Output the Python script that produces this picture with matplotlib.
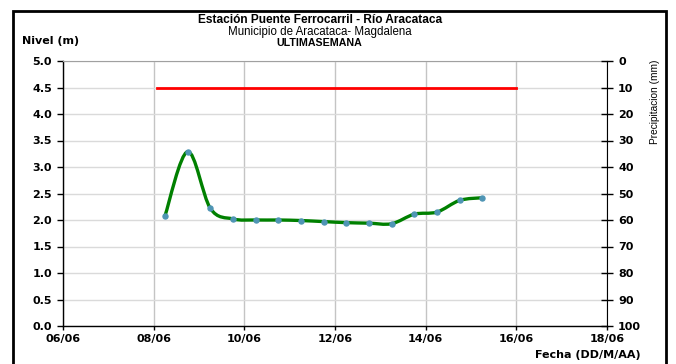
import matplotlib
matplotlib.use("Agg")
import matplotlib.pyplot as plt
import matplotlib.dates as mdates
from matplotlib.path import Path
from matplotlib.patches import PathPatch, Rectangle
import numpy as np
import pandas as pd

# --- data ---
fechas = pd.date_range("2023-06-08 06:00", periods=15, freq="12h")
nivel = [2.08, 3.29, 2.22, 2.02, 2.00, 2.00, 1.99, 1.97, 1.95, 1.94, 1.93, 2.11, 2.15, 2.37, 2.42]
alerta_fechas = pd.to_datetime(["2023-06-08 02:00", "2023-06-16 00:00"])
alerta_nivel = [4.5, 4.5]
x_ticks = pd.date_range("2023-06-06", "2023-06-18", freq="2D")
y_ticks = np.arange(0, 5.01, 0.5)
precip_ticks = np.arange(0, 101, 10)

plt.rcParams["font.family"] = ["Liberation Sans", "DejaVu Sans"]
WIDE = ["DejaVu Sans"]  # the reference's bold labels are wide, DejaVu fits them


def smooth_path(x, y):
    # Excel-style smoothed line: Catmull-Rom segments as cubic Beziers
    p = np.column_stack([x, y])
    n = len(p)
    verts = [p[0]]
    codes = [Path.MOVETO]
    for i in range(n - 1):
        p0 = p[i - 1] if i > 0 else p[i]
        p3 = p[i + 2] if i + 2 < n else p[i + 1]
        c1 = p[i] + (p[i + 1] - p0) / 6
        c2 = p[i + 1] - (p3 - p[i]) / 6
        verts += [c1, c2, p[i + 1]]
        codes += [Path.CURVE4] * 3
    return Path(verts, codes)


fig = plt.figure(figsize=(6.76, 3.64), dpi=100)
ax = fig.add_axes([63 / 676, 1 - 326 / 364, 544 / 676, 265 / 364])

xnum = mdates.date2num(fechas)
ax.add_patch(PathPatch(smooth_path(xnum, nivel), facecolor="none",
                       edgecolor="#008000", lw=2.4, zorder=3))
ax.plot(fechas, nivel, ls="none", marker="o", ms=3.6,
        color="#4f95b5", zorder=4)
ax.plot(alerta_fechas, alerta_nivel, color="#ff0000", lw=2, zorder=3)

ax.set_xlim(x_ticks[0], x_ticks[-1])
ax.set_ylim(0, 5)
ax.set_xticks(x_ticks)
ax.xaxis.set_major_formatter(mdates.DateFormatter("%d/%m"))
ax.set_yticks(y_ticks)
ax.set_yticklabels([f"{v:.1f}" for v in y_ticks])

ax.grid(axis="x", color="#c4c4c4", lw=1)
ax.grid(axis="y", color="#dadada", lw=1)
ax.set_axisbelow(True)

for s in ["left", "bottom"]:
    ax.spines[s].set_color("black")
    ax.spines[s].set_linewidth(1)
ax.spines["top"].set_color("#a0a0a0")
ax.spines["right"].set_visible(False)

ax.tick_params(axis="y", direction="out", length=4, width=1, pad=4, labelsize=8)
ax.tick_params(axis="x", direction="out", length=3, width=1, pad=3, labelsize=8)
for lab in ax.get_xticklabels() + ax.get_yticklabels():
    lab.set_fontweight("bold")
    lab.set_family(WIDE)

ax2 = ax.twinx()
ax2.set_ylim(100, 0)
ax2.set_yticks(precip_ticks)
ax2.tick_params(axis="y", direction="inout", length=8, width=1, pad=4, labelsize=8)
for lab in ax2.get_yticklabels():
    lab.set_fontweight("bold")
    lab.set_family(WIDE)
for s in ["left", "bottom", "top"]:
    ax2.spines[s].set_visible(False)
ax2.spines["right"].set_color("black")

fig.text(320 / 676, 1 - 20 / 364, "Estación Puente Ferrocarril - Río Aracataca",
         ha="center", va="center", fontsize=8.6, fontweight="bold")
fig.text(320 / 676, 1 - 32 / 364, "Municipio de Aracataca- Magdalena",
         ha="center", va="center", fontsize=8.3)
fig.text(319 / 676, 1 - 43 / 364, "ULTIMASEMANA",
         ha="center", va="center", fontsize=7.7, fontweight="bold")
fig.text(22 / 676, 1 - 41 / 364, "Nivel (m)", ha="left", va="center",
         fontsize=8, fontweight="bold", family=WIDE)
fig.text(641 / 676, 1 - 355 / 364, "Fecha (DD/M/AA)", ha="right", va="center",
         fontsize=8, fontweight="bold", family=WIDE)
fig.text(655 / 676, 1 - 102 / 364, "Precipitacion (mm)", ha="center", va="center",
         rotation=90, fontsize=7.3)

fig.add_artist(Rectangle((13 / 676, -0.1), (666 - 13) / 676, 1.1 - 11 / 364,
                         transform=fig.transFigure, fill=False,
                         edgecolor="black", lw=2))

fig.savefig("out.png", dpi=100)
